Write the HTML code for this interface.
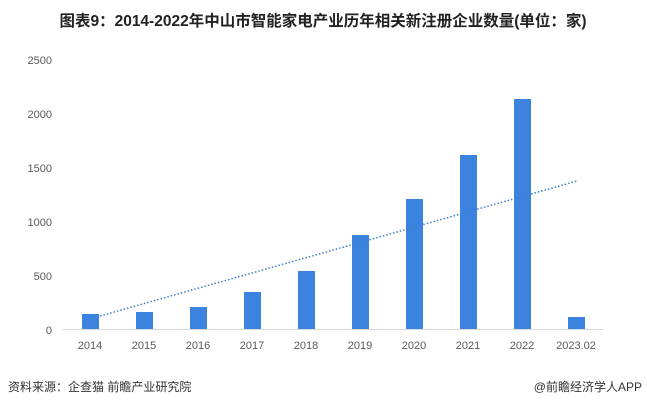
<!DOCTYPE html>
<html><head><meta charset="utf-8"><style>
body{margin:0;width:647px;height:408px;background:#fff;overflow:hidden;font-family:"Liberation Sans","Noto Sans CJK SC",sans-serif}
</style></head><body>
<svg width="647" height="408" xmlns="http://www.w3.org/2000/svg" style="position:absolute;left:0;top:0">
<text x="323" y="26" text-anchor="middle" font-size="15.5" font-weight="bold" fill="#222" font-family="Liberation Sans,Noto Sans CJK SC,sans-serif">图表9：2014-2022年中山市智能家电产业历年相关新注册企业数量(单位：家)</text>
<g font-size="11" fill="#595959" text-anchor="end" font-family="Liberation Sans,sans-serif">
<text x="52" y="64">2500</text><text x="52" y="118">2000</text><text x="52" y="172">1500</text>
<text x="52" y="226">1000</text><text x="52" y="280">500</text><text x="52" y="334">0</text>
</g>
<line x1="62" y1="329.5" x2="603" y2="329.5" stroke="#d9d9d9" stroke-width="1"/>
<g fill="#3c83e0">
<rect x="82" y="314" width="17" height="15"/>
<rect x="136" y="312" width="17" height="17"/>
<rect x="190" y="307" width="17" height="22"/>
<rect x="244" y="292" width="17" height="37"/>
<rect x="298" y="271" width="17" height="58"/>
<rect x="352" y="235" width="17" height="94"/>
<rect x="406" y="199" width="17" height="130"/>
<rect x="460" y="155" width="17" height="174"/>
<rect x="514" y="99" width="17" height="230"/>
<rect x="568" y="317" width="17" height="12"/>
</g>
<line x1="100" y1="316" x2="577" y2="181" stroke="#3c7fd0" stroke-width="1.5" stroke-dasharray="1.5,2"/>
<g font-size="11" fill="#595959" text-anchor="middle" font-family="Liberation Sans,sans-serif">
<text x="90" y="349">2014</text><text x="144" y="349">2015</text><text x="198" y="349">2016</text>
<text x="252" y="349">2017</text><text x="306" y="349">2018</text><text x="360" y="349">2019</text>
<text x="414" y="349">2020</text><text x="468" y="349">2021</text><text x="522" y="349">2022</text>
<text x="576" y="349">2023.02</text>
</g>
<text x="8" y="391" font-size="12" fill="#333" font-family="Liberation Sans,Noto Sans CJK SC,sans-serif">资料来源：企查猫 前瞻产业研究院</text>
<text x="642" y="391" font-size="12" fill="#333" text-anchor="end" font-family="Liberation Sans,Noto Sans CJK SC,sans-serif">@前瞻经济学人APP</text>
</svg>
</body></html>
